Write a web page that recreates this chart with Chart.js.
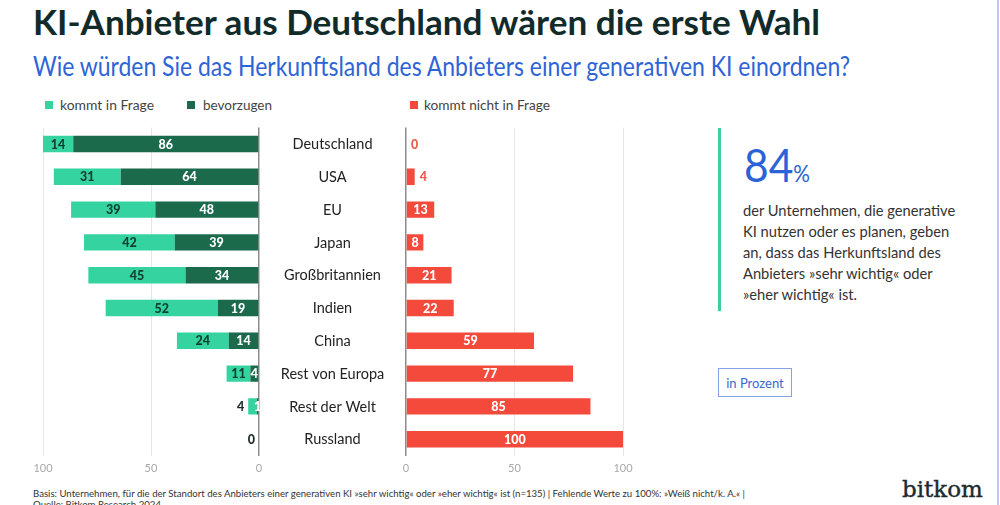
<!DOCTYPE html>
<html lang="de">
<head>
<meta charset="utf-8">
<script src="https://cdn.jsdelivr.net/npm/chart.js@4.4.1/dist/chart.umd.min.js"></script>
<style>
  html, body { margin:0; padding:0; background:#fff; }
  body { width:1000px; height:505px; position:relative; overflow:hidden; font-family: Lato, "Noto Sans", sans-serif; }
  .abs { position:absolute; white-space:nowrap; line-height:1; }
  .fit { display:inline-block; transform-origin:0 0; }
  #title { left:33px; top:5px; font-size:34px; font-weight:700; color:#112b2b; }
  #subtitle { left:33px; top:53px; font-size:26px; color:#2f64d6; }
  .lg { top:99px; font-size:13.5px; color:#444; }
  .sq { position:absolute; width:8px; height:8px; top:101px; }
  canvas { position:absolute; }
  #accent { position:absolute; left:718px; top:128px; width:3px; height:183px; background:#3dcf9b; }
  #big { left:744px; top:141px; color:#2c62d8; font-size:47px; }
  #big .pct { font-size:23px; }
  #para { position:absolute; left:743px; top:200px; font-size:14.7px; line-height:21px; color:#333; white-space:nowrap; }
  #box { position:absolute; left:718px; top:368px; width:72px; height:27px; border:1.5px solid #86a2e4; color:#3a68cf; font-size:13px; display:flex; align-items:center; justify-content:center; }
  #rline { position:absolute; left:997px; top:0; width:2px; height:505px; background:#c2c6ef; }
  #foot1 { left:33px; top:488px; font-size:10px; color:#333; }
  #foot2 { left:33px; top:499px; font-size:10px; color:#333; }
  #logo { left:902px; top:478px; font-size:23px; color:#1b2a2e; font-family:"DejaVu Serif", "Liberation Serif", serif; -webkit-text-stroke:0.4px #1b2a2e; }
</style>
</head>
<body>
<div class="abs" id="title"><span class="fit" data-w="787">KI-Anbieter aus Deutschland wären die erste Wahl</span></div>
<div class="abs" id="subtitle"><span class="fit" data-w="817">Wie würden Sie das Herkunftsland des Anbieters einer generativen KI einordnen?</span></div>

<div class="sq" style="left:45px;background:#35d3a0"></div>
<div class="abs lg" style="left:60px"><span class="fit" data-w="94">kommt in Frage</span></div>
<div class="sq" style="left:187px;background:#1b6a4c"></div>
<div class="abs lg" style="left:203px"><span class="fit" data-w="69">bevorzugen</span></div>
<div class="sq" style="left:410px;background:#f44a3c"></div>
<div class="abs lg" style="left:424px"><span class="fit" data-w="126">kommt nicht in Frage</span></div>

<canvas id="left" width="275" height="385" style="left:0;top:100px"></canvas>
<canvas id="right" width="400" height="385" style="left:262px;top:100px"></canvas>

<div id="accent"></div>
<div class="abs" id="big"><span class="fit" data-w="66">84<span class="pct">%</span></span></div>
<div id="para">der Unternehmen, die generative<br>KI nutzen oder es planen, geben<br>an, dass das Herkunftsland des<br>Anbieters »sehr wichtig« oder<br>»eher wichtig« ist.</div>
<div id="box">in Prozent</div>
<div id="rline"></div>

<div class="abs" id="foot1"><span class="fit" data-w="712">Basis: Unternehmen, für die der Standort des Anbieters einer generativen KI »sehr wichtig« oder »eher wichtig« ist (n=135) | Fehlende Werte zu 100%: »Weiß nicht/k. A.« |</span></div>
<div class="abs" id="foot2"><span class="fit" data-w="128">Quelle: Bitkom Research 2024</span></div>
<div class="abs" id="logo">bitkom</div>

<script>
const categories = ["Deutschland","USA","EU","Japan","Großbritannien","Indien","China","Rest von Europa","Rest der Welt","Russland"];
const bevorzugen = [86,64,48,39,34,19,14,4,1,0];
const kommtInFrage = [14,31,39,42,45,52,24,11,4,0];
const kommtNichtInFrage = [0,4,13,8,21,22,59,77,85,100];
const axisTicks = [0,50,100];

const C_LIGHT = '#35d3a0', C_DARK = '#1b6a4c', C_RED = '#f44a3c';

const valueLabels = {
  id: 'valueLabels',
  afterDatasetsDraw(chart) {
    const ctx = chart.ctx;
    ctx.save();
    ctx.font = '900 12.5px Lato, "Noto Sans", sans-serif';
    ctx.textBaseline = 'middle';
    chart.data.datasets.forEach((ds, di) => {
      const st = ds.labelStyle;
      const meta = chart.getDatasetMeta(di);
      meta.data.forEach((bar, i) => {
        const v = ds.data[i];
        if (st.hideZero && v === 0) return;
        const lo = Math.min(bar.x, bar.base), hi = Math.max(bar.x, bar.base);
        const w = hi - lo;
        const txt = String(v);
        const tw = ctx.measureText(txt).width;
        let x, align, color;
        if (st.outside && tw + 6 > w) {
          color = st.outsideColor;
          if (st.outside === 'left') { x = lo - 4; align = 'right'; }
          else { x = hi + 5; align = 'left'; }
        } else {
          color = st.color; x = (lo + hi) / 2; align = 'center';
        }
        ctx.fillStyle = color;
        ctx.textAlign = align;
        ctx.fillText(txt, x, bar.y + 0.5);
      });
    });
    ctx.restore();
  }
};

const categoryLabels = {
  id: 'categoryLabels',
  afterDraw(chart) {
    const ctx = chart.ctx;
    const ys = chart.scales.y;
    ctx.save();
    ctx.font = '14.5px Lato, "Noto Sans", sans-serif';
    ctx.fillStyle = '#222';
    ctx.textAlign = 'center';
    ctx.textBaseline = 'middle';
    categories.forEach((c, i) => {
      ctx.fillText(c, 70.5, ys.getPixelForValue(i) + 0.5);
    });
    ctx.restore();
  }
};

function xScale(reverse) {
  return {
    type: 'linear', min: 0, max: 100, reverse: reverse, stacked: true,
    afterBuildTicks: s => { s.ticks = axisTicks.map(v => ({ value: v })); },
    afterFit: s => { s.height = 25; },
    grid: {
      drawTicks: false,
      color: c => (c.tick && c.tick.value === 0) ? '#8c8c8c' : '#e6e6e6',
      lineWidth: c => (c.tick && c.tick.value === 0) ? 1.5 : 1
    },
    border: { display: false },
    ticks: { padding: 6, color: '#a8a8a8', font: { family: 'Lato', size: 11 } }
  };
}

const common = {
  responsive: false, animation: false, devicePixelRatio: 1, indexAxis: 'y',
  plugins: { legend: { display: false }, tooltip: { enabled: false } },
};

new Chart(document.getElementById('left'), {
  type: 'bar',
  data: {
    labels: categories,
    datasets: [
      { label: 'bevorzugen', data: bevorzugen, backgroundColor: C_DARK,
        categoryPercentage: 1, barPercentage: 0.5,
        labelStyle: { color: '#ffffff', hideZero: true } },
      { label: 'kommt in Frage', data: kommtInFrage, backgroundColor: C_LIGHT,
        categoryPercentage: 1, barPercentage: 0.5,
        labelStyle: { color: '#10412f', outside: 'left', outsideColor: '#1d2b27' } }
    ]
  },
  options: Object.assign({}, common, {
    layout: { padding: { left: 43, right: 16, top: 27.6, bottom: 4.4 } },
    scales: { x: xScale(true), y: { display: false, stacked: true } }
  }),
  plugins: [valueLabels]
});

new Chart(document.getElementById('right'), {
  type: 'bar',
  data: {
    labels: categories,
    datasets: [
      { label: 'kommt nicht in Frage', data: kommtNichtInFrage, backgroundColor: C_RED,
        categoryPercentage: 1, barPercentage: 0.5,
        labelStyle: { color: '#ffffff', outside: 'right', outsideColor: '#ef5a4e' } }
    ]
  },
  options: Object.assign({}, common, {
    layout: { padding: { left: 144, right: 39, top: 27.6, bottom: 4.4 } },
    scales: { x: xScale(false), y: { display: false } }
  }),
  plugins: [valueLabels, categoryLabels]
});

function fitAll() {
  document.querySelectorAll('.fit').forEach(el => {
    el.style.transform = 'none';
    const w = el.getBoundingClientRect().width;
    const t = parseFloat(el.dataset.w);
    if (w > 0) el.style.transform = 'scaleX(' + (t / w) + ')';
  });
}
fitAll();
if (document.fonts && document.fonts.ready) document.fonts.ready.then(fitAll);
</script>
</body>
</html>
